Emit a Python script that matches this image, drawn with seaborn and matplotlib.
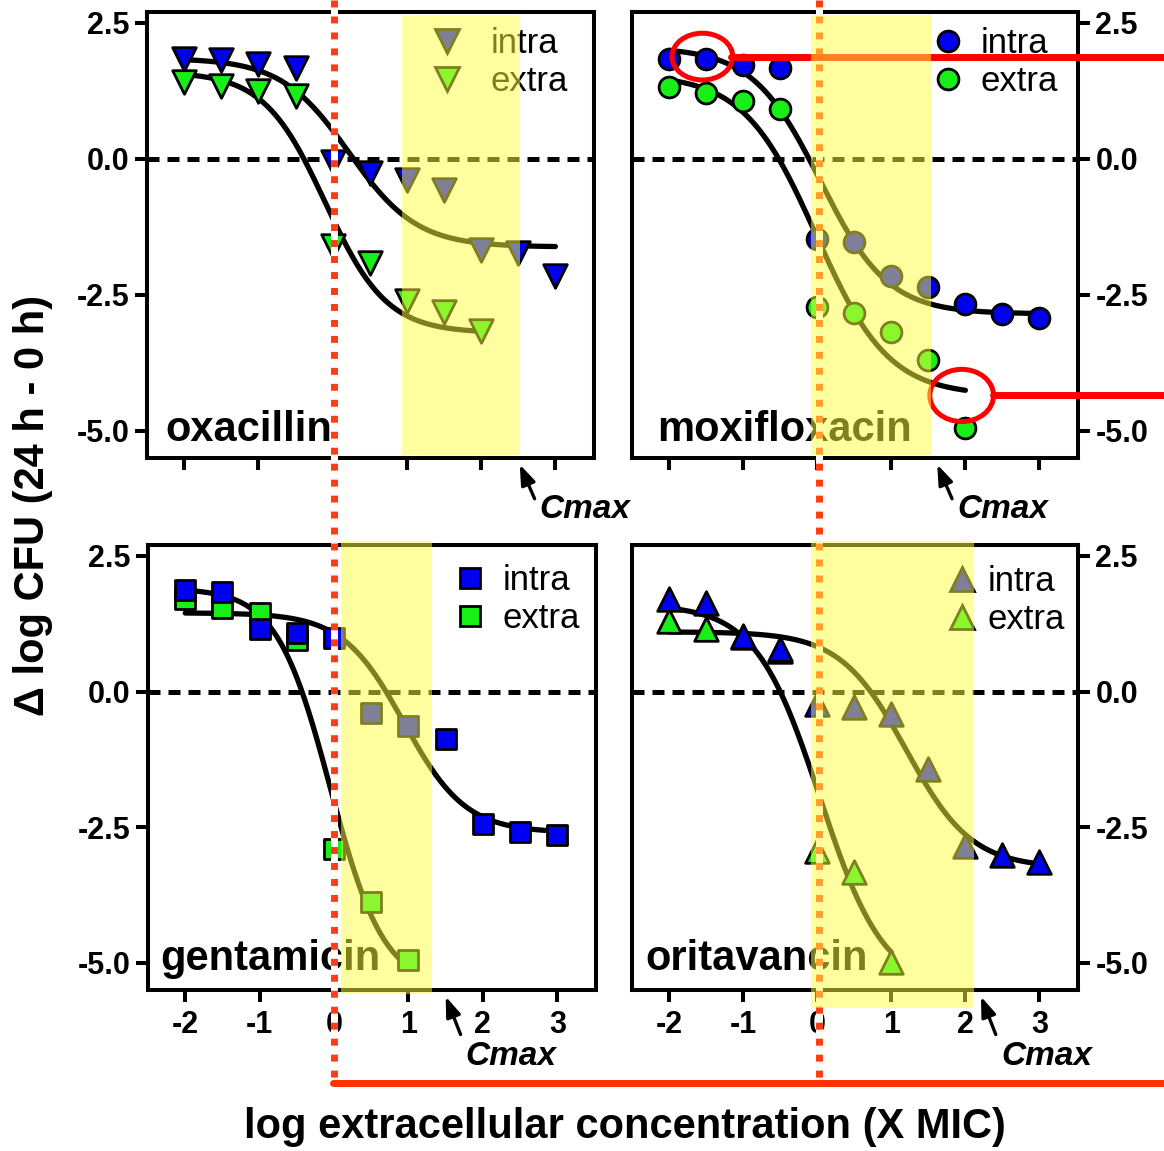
import numpy as np
import pandas as pd
import matplotlib
matplotlib.use("Agg")
import matplotlib.pyplot as plt
import matplotlib.transforms as mtrans
import seaborn as sns
from matplotlib.lines import Line2D
from matplotlib.patches import Ellipse, Rectangle

sns.set_theme(style="white")
plt.rcParams['font.family'] = ['Liberation Sans', 'DejaVu Sans']
plt.rcParams['axes.unicode_minus'] = False
for k in ('text.color', 'axes.labelcolor', 'xtick.color', 'ytick.color'):
    plt.rcParams[k] = 'black'

# ---------------- data ----------------
x_conc = [-2, -1.5, -1, -0.5, 0, 0.5, 1, 1.5, 2, 2.5, 3]

oxa_intra = [1.83, 1.82, 1.75, 1.67, -0.05, -0.26, -0.39, -0.57, -1.67, -1.73, -2.16]
oxa_extra = [1.42, 1.34, 1.24, 1.15, -1.61, -1.92, -2.62, -2.81, -3.17]
moxi_intra = [1.83, 1.83, 1.73, 1.67, -1.47, -1.53, -2.16, -2.35, -2.66, -2.86, -2.92]
moxi_extra = [1.32, 1.21, 1.06, 0.92, -2.72, -2.83, -3.19, -3.69, -4.94]
gen_intra = [1.88, 1.83, 1.15, 1.08, 0.99, -0.40, -0.63, -0.88, -2.44, -2.59, -2.65]
gen_extra = [1.70, 1.54, 1.45, 0.95, -2.90, -3.88, -4.95]
ori_intra = [1.70, 1.64, 1.02, 0.78, -0.23, -0.29, -0.42, -1.43, -2.84, -3.02, -3.14]
ori_extra = [1.30, 1.15, 1.00, 0.75, -2.93, -3.33, -4.98]

# Hill-fit parameters: top, bottom, logEC50, slope, last x of the fitted curve
oxa_intra_fit = [1.85, -1.62, 0.22, 0.95, 3]
oxa_extra_fit = [1.60, -3.20, -0.10, 1.05, 2]
moxi_intra_fit = [2.05, -2.85, 0.04, 0.95, 3]
moxi_extra_fit = [1.55, -4.35, -0.014, 0.887, 2]
gen_intra_fit = [1.45, -2.60, 0.94, 1.05, 3]
gen_extra_fit = [1.90, -5.45, -0.05, 1.20, 1]
ori_intra_fit = [1.10, -3.25, 1.20, 0.98, 3]
ori_extra_fit = [1.60, -5.50, 0.036, 1.00, 1]

drugs = ["oxacillin", "moxifloxacin", "gentamicin", "oritavancin"]
shade_lo = [0.93, -0.08, 0.10, -0.09]
shade_hi = [2.52, 1.53, 1.31, 2.12]
cmax = [2.52, 1.62, 1.50, 2.21]
series_labels = ["intra", "extra"]
y_ticks = [2.5, 0.0, -2.5, -5.0]
y_ticklabels = ["2.5", "0.0", "-2.5", "-5.0"]
x_ticks = [-2, -1, 0, 1, 2, 3]
x_ticklabels = ["-2", "-1", "0", "1", "2", "3"]

panels = [
    (oxa_intra, oxa_extra, oxa_intra_fit, oxa_extra_fit),
    (moxi_intra, moxi_extra, moxi_intra_fit, moxi_extra_fit),
    (gen_intra, gen_extra, gen_intra_fit, gen_extra_fit),
    (ori_intra, ori_extra, ori_intra_fit, ori_extra_fit),
]
markers = ['v', 'o', 's', '^']
msizes = [17, 15, 15, 17]
BLUE = '#0000f0'
GREEN = '#18ee18'

W, H = 1164, 1151
fig = plt.figure(figsize=(W / 100, H / 100), dpi=100)

def fx(px):
    return px / W

def fy(py):
    return 1 - py / H

boxes = [(147, 12, 594, 458), (632, 12, 1078, 458),
         (148, 545, 596, 990), (632, 545, 1078, 990)]

def hill(xs, p):
    top, bot, ec, s, _ = p
    return bot + (top - bot) / (1 + 10 ** ((xs - ec) * s))

axes = []
leg_pos = [(0.633, 0.966, 0.75), (0.670, 0.966, 0.43),
           (0.679, 0.957, 0.46), (0.702, 0.955, 0.23)]
label_pos = [(0.040, 0.038), (0.056, 0.038), (0.027, 0.045), (0.030, 0.045)]

for i, (ax_box, pan) in enumerate(zip(boxes, panels)):
    l, t, r, b = ax_box
    ax = fig.add_axes([fx(l), fy(b), (r - l) / W, (b - t) / H])
    axes.append(ax)
    intra, extra, fi, fe = pan
    ax.set_xlim(-2.5, 3.52)
    ax.set_ylim(-5.5, 2.7)
    ax.axhline(0, color='black', lw=3.6, ls=(0, (2.4, 1.6)), zorder=1)

    for p in (fi, fe):
        xs = np.linspace(-2, p[4], 300)
        df = pd.DataFrame({'x': xs, 'y': hill(xs, p)})
        sns.lineplot(data=df, x='x', y='y', ax=ax, color='black', lw=3.8,
                     zorder=2, estimator=None, sort=False)

    ms = msizes[i]
    order = [(extra, GREEN, 3), (intra, BLUE, 4)]
    if i == 0:
        order = [(extra, GREEN, 4), (intra, BLUE, 3)]
    for vals, col, z in order:
        sns.scatterplot(x=x_conc[:len(vals)], y=vals, ax=ax, marker=markers[i],
                        s=ms ** 2, color=col, edgecolor='black', linewidth=2.0,
                        zorder=z, legend=False)

    ax.set_xlabel('')
    ax.set_ylabel('')
    for sp in ax.spines.values():
        sp.set_linewidth(2.9)
        sp.set_color('black')
    ax.set_xticks(x_ticks)
    ax.set_yticks(y_ticks)
    ax.tick_params(direction='out', length=8.6, width=2.9, color='black',
                   labelcolor='black', labelsize=22, pad=4)
    if i >= 2:
        ax.set_xticklabels(x_ticklabels, fontweight='bold')
        ax.tick_params(axis='x', bottom=True, labelbottom=True, pad=6)
    else:
        ax.tick_params(axis='x', bottom=True, labelbottom=False)
    ax.set_yticklabels(y_ticklabels, fontweight='bold')
    if i % 2 == 1:
        ax.yaxis.tick_right()
        ax.tick_params(axis='y', right=True, left=False, labelright=True,
                       labelleft=False, direction='out', length=8.6, width=2.9)
    else:
        ax.tick_params(axis='y', left=True, right=False)

    handles = [Line2D([], [], ls='none', marker=markers[i], ms=ms,
                      mfc=BLUE, mec='black', mew=2.0),
               Line2D([], [], ls='none', marker=markers[i], ms=ms,
                      mfc=GREEN, mec='black', mew=2.0)]
    lx, ly, htp = leg_pos[i]
    ax.legend(handles, series_labels, loc='upper left', bbox_to_anchor=(lx, ly),
              frameon=False, fontsize=25, borderpad=0, borderaxespad=0,
              handlelength=1.0, handletextpad=htp, labelspacing=0.15,
              labelcolor='black')

    tx, ty = label_pos[i]
    ax.text(tx, ty, drugs[i], transform=ax.transAxes, fontsize=30,
            fontweight='bold', ha='left', va='baseline', zorder=6, color='black')

    # Cmax arrow and label
    if i < 2:
        tip_y, tail_y, txt_y = -5.62, -6.25, -6.45
    else:
        tip_y, tail_y, txt_y = -5.62, -6.32, -6.73
    ax.annotate('', xy=(cmax[i], tip_y), xytext=(cmax[i] + 0.2, tail_y),
                arrowprops=dict(arrowstyle='-|>,head_length=0.6,head_width=0.22',
                                color='black', lw=2.4, mutation_scale=20,
                                shrinkA=0, shrinkB=0),
                annotation_clip=False)
    ax.text(cmax[i] + 0.27, txt_y, 'Cmax', fontsize=24, fontweight='bold',
            fontstyle='italic', ha='left', va='center', clip_on=False,
            color='black')

# yellow shaded ranges (overlay, on top)
y_ext = [(0.007, 0.986), (0.007, 0.986), (-0.01, 1.02), (-0.04, 1.05)]
for i, ax in enumerate(axes):
    y0, hgt = y_ext[i]
    rect = Rectangle((shade_lo[i], y0), shade_hi[i] - shade_lo[i], hgt,
                     transform=ax.get_xaxis_transform(), facecolor='#ffff40',
                     alpha=0.5, lw=0, zorder=8)
    fig.add_artist(rect)

# red dotted MIC lines through the figure
RED_DOT = '#ff3c14'
for ax in (axes[0], axes[1]):
    tr = mtrans.blended_transform_factory(ax.transData, fig.transFigure)
    fig.add_artist(Line2D([0.02, 0.02], [1.0, fy(1083)], transform=tr,
                          color='white', lw=5.0, zorder=6))
    fig.add_artist(Line2D([0.02, 0.02], [1.0, fy(1083)], transform=tr,
                          color=RED_DOT, lw=5.0, ls=(0, (1.0, 1.3)),
                          solid_capstyle='butt', zorder=7))
fig.add_artist(Line2D([fx(333), 1.0], [fy(1083), fy(1083)], color='#ff3300',
                      lw=5.0, zorder=7))

# red highlight circles in moxifloxacin panel
axm = axes[1]
trm = mtrans.blended_transform_factory(fig.transFigure, axm.transData)
for (cx, cy, ew, eh, x_start) in [(-1.55, 1.88, 0.82, 0.86, 731),
                                    (1.95, -4.35, 0.86, 0.96, 993)]:
    fig.add_artist(Ellipse((cx, cy), ew, eh, transform=axm.transData,
                           fill=False, edgecolor='#ff0000', lw=3.6, zorder=7))
    fig.add_artist(Line2D([fx(x_start), 1.0], [cy, cy], transform=trm,
                          color='#ff0000', lw=5.0, zorder=7))

fig.text(fx(33), fy(505), 'Δ log CFU (24 h - 0 h)', rotation=90, fontsize=30,
         fontweight='bold', ha='center', va='center', color='black')
fig.text(fx(625), fy(1127), 'log extracellular concentration (X MIC)',
         fontsize=30, fontweight='bold', ha='center', va='center', color='black')

fig.savefig('out.png', dpi=100, facecolor='white')
